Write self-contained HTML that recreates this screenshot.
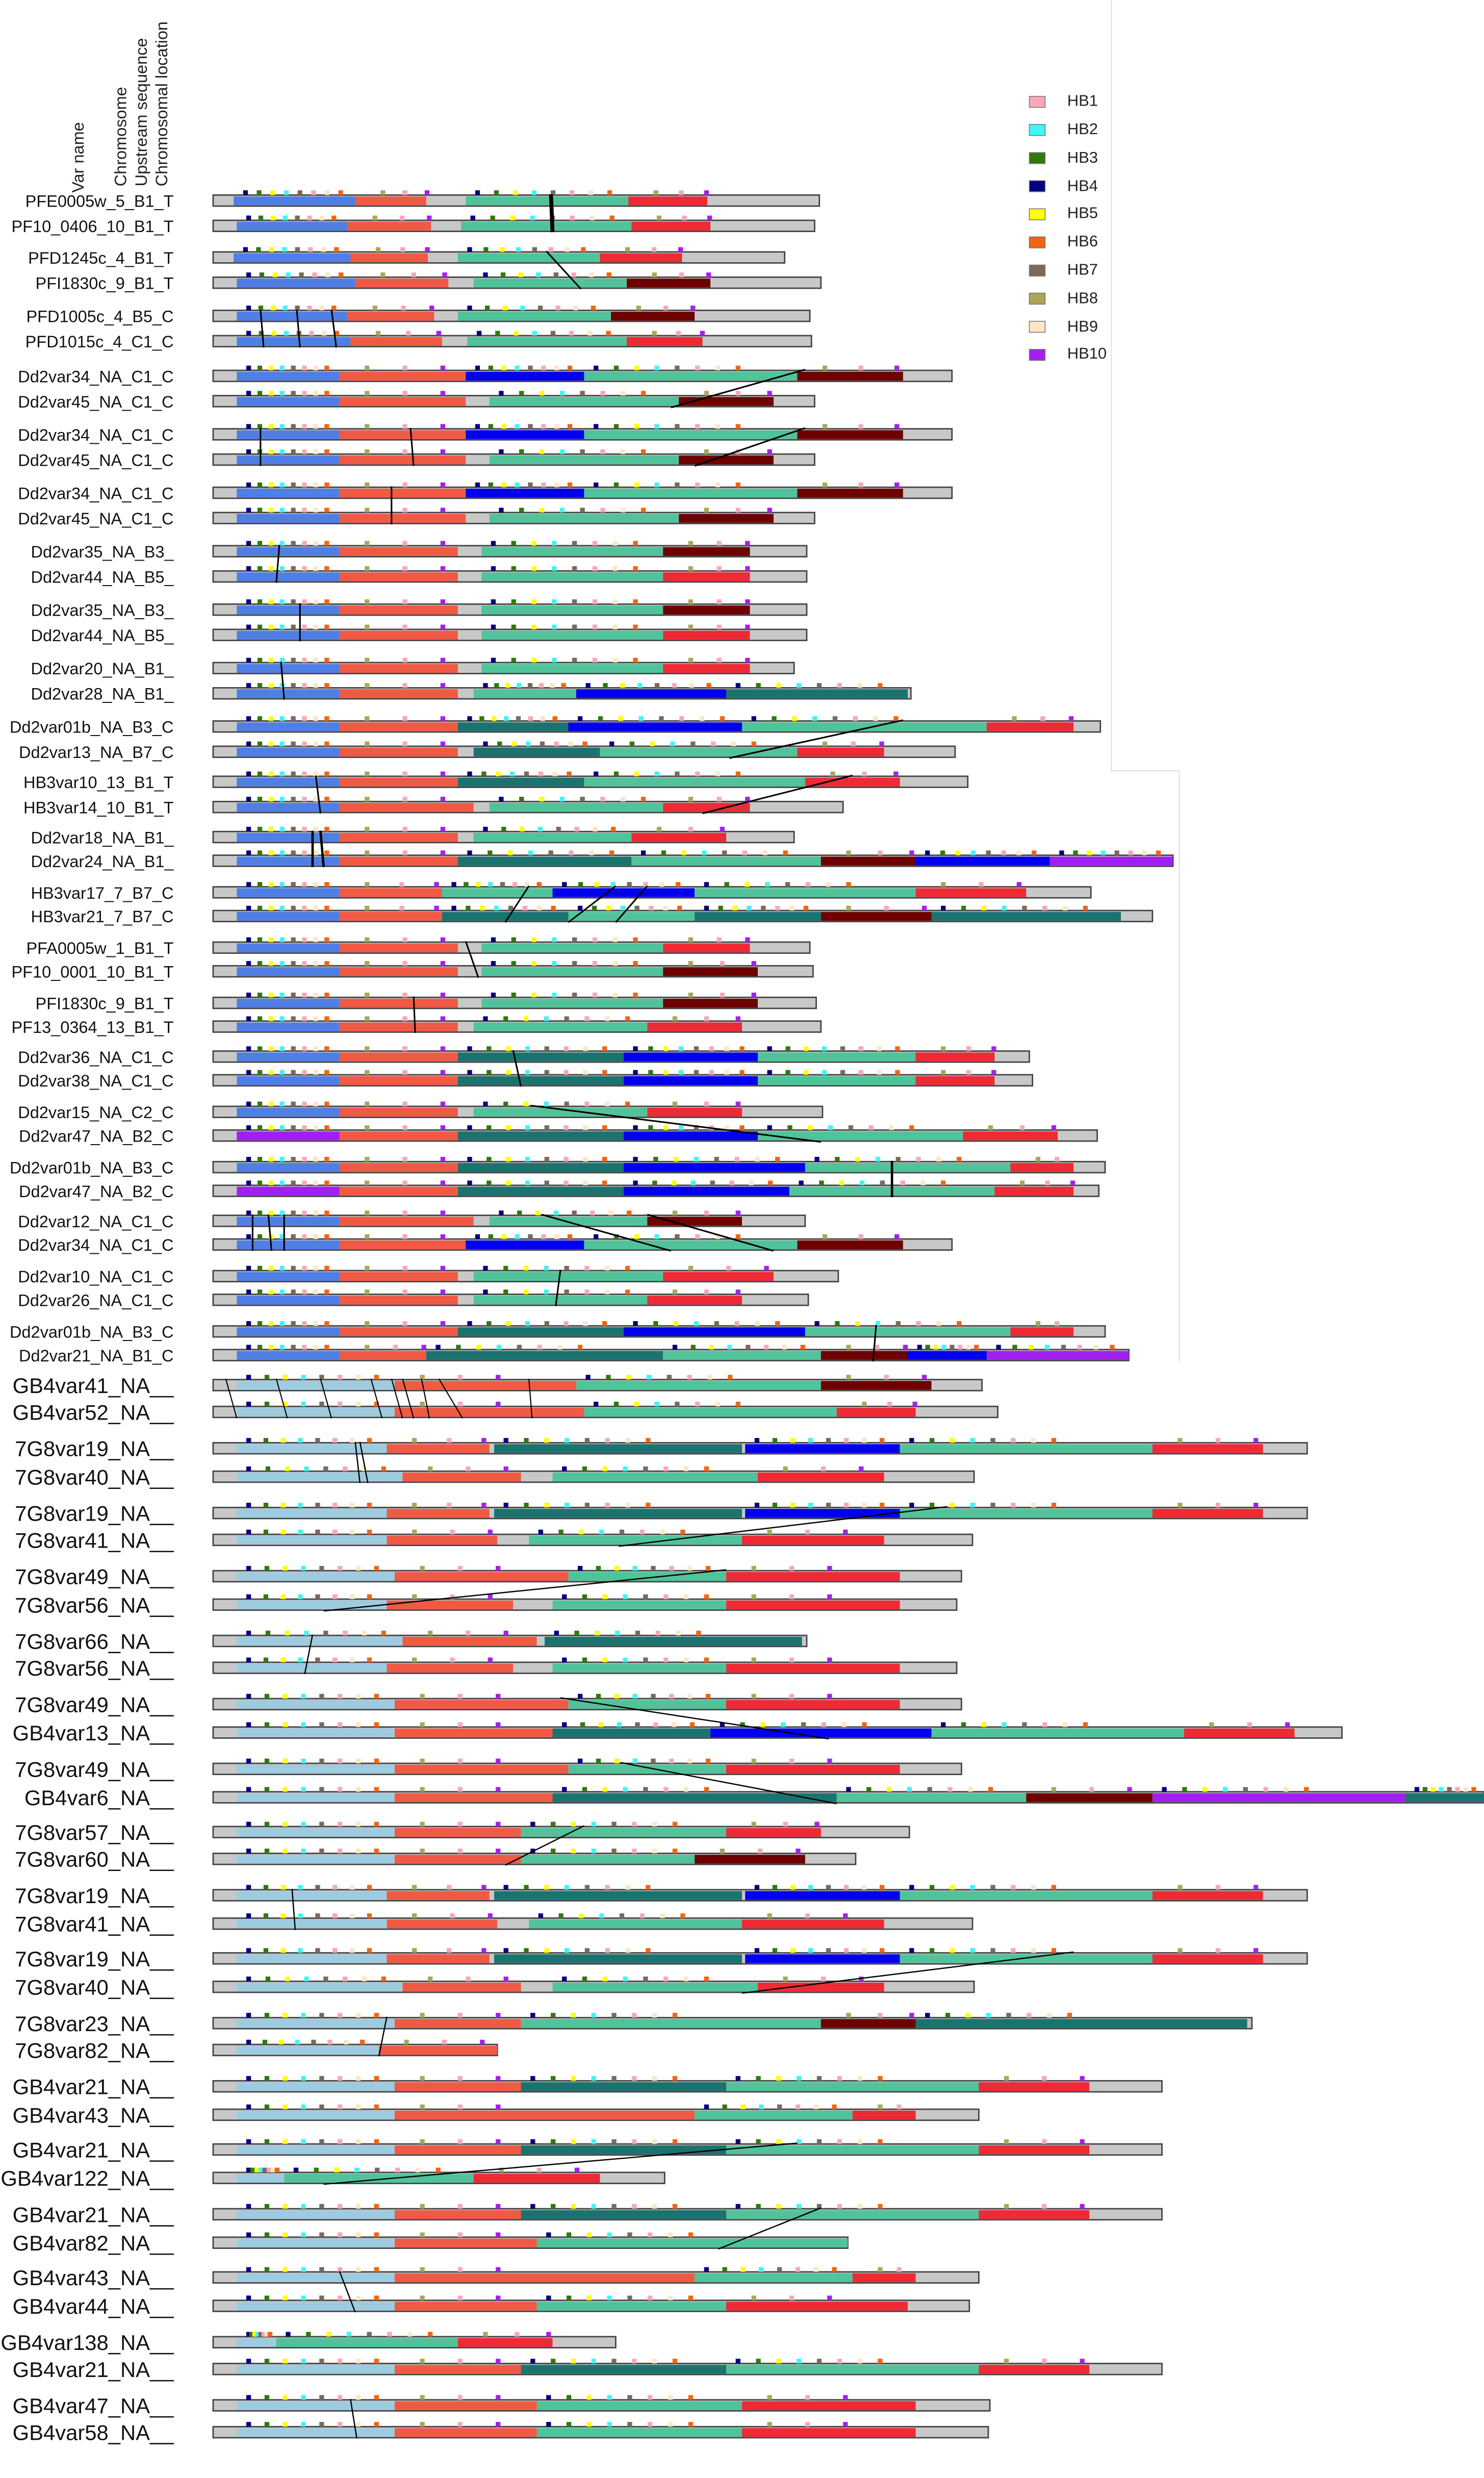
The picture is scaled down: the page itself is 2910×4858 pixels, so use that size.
<!DOCTYPE html>
<html><head><meta charset="utf-8"><style>
html,body{margin:0;padding:0;background:#fff;}
svg{display:block}
.lb{font-family:"Liberation Sans Narrow","Liberation Sans",sans-serif;font-size:10.5px;fill:#111;text-anchor:end}
.lb2{font-family:"Liberation Sans Narrow","Liberation Sans",sans-serif;font-size:13.5px;fill:#111;text-anchor:end}
.hd{font-family:"Liberation Sans",sans-serif;font-size:10.5px;fill:#222}
.lg{font-family:"Liberation Sans",sans-serif;font-size:10px;fill:#222}
</style></head><body>
<svg id="s" xmlns="http://www.w3.org/2000/svg" width="2910" height="4858" viewBox="0 0 940 1569" preserveAspectRatio="none">
<rect width="940" height="1569" fill="#fff"/>
<path d="M704 0 V488 H747 V862" fill="none" stroke="#ddd" stroke-width="0.6"/>
<text class="hd" transform="translate(53,122) rotate(-90)">Var name</text>
<text class="hd" transform="translate(80,118) rotate(-90)">Chromosome</text>
<text class="hd" transform="translate(93,118) rotate(-90)">Upstream sequence</text>
<text class="hd" transform="translate(106,118) rotate(-90)">Chromosomal location</text>
<g id="legend"></g>
<g class="lg">
<text x="676" y="67">HB1</text><text x="676" y="85">HB2</text><text x="676" y="103">HB3</text><text x="676" y="121">HB4</text><text x="676" y="138">HB5</text><text x="676" y="156">HB6</text><text x="676" y="174">HB7</text><text x="676" y="192">HB8</text><text x="676" y="210">HB9</text><text x="676" y="227">HB10</text>
</g>
<g id="bars"></g>
<g id="links"></g>
<g>
<text class="lb" x="110" y="131">PFE0005w_5_B1_T</text>
<text class="lb" x="110" y="147">PF10_0406_10_B1_T</text>
<text class="lb" x="110" y="167">PFD1245c_4_B1_T</text>
<text class="lb" x="110" y="183">PFI1830c_9_B1_T</text>
<text class="lb" x="110" y="204">PFD1005c_4_B5_C</text>
<text class="lb" x="110" y="220">PFD1015c_4_C1_C</text>
<text class="lb" x="110" y="242">Dd2var34_NA_C1_C</text>
<text class="lb" x="110" y="258">Dd2var45_NA_C1_C</text>
<text class="lb" x="110" y="279">Dd2var34_NA_C1_C</text>
<text class="lb" x="110" y="295">Dd2var45_NA_C1_C</text>
<text class="lb" x="110" y="316">Dd2var34_NA_C1_C</text>
<text class="lb" x="110" y="332">Dd2var45_NA_C1_C</text>
<text class="lb" x="110" y="353">Dd2var35_NA_B3_</text>
<text class="lb" x="110" y="369">Dd2var44_NA_B5_</text>
<text class="lb" x="110" y="390">Dd2var35_NA_B3_</text>
<text class="lb" x="110" y="406">Dd2var44_NA_B5_</text>
<text class="lb" x="110" y="427">Dd2var20_NA_B1_</text>
<text class="lb" x="110" y="443">Dd2var28_NA_B1_</text>
<text class="lb" x="110" y="464">Dd2var01b_NA_B3_C</text>
<text class="lb" x="110" y="480">Dd2var13_NA_B7_C</text>
<text class="lb" x="110" y="499">HB3var10_13_B1_T</text>
<text class="lb" x="110" y="515">HB3var14_10_B1_T</text>
<text class="lb" x="110" y="534">Dd2var18_NA_B1_</text>
<text class="lb" x="110" y="549">Dd2var24_NA_B1_</text>
<text class="lb" x="110" y="569">HB3var17_7_B7_C</text>
<text class="lb" x="110" y="584">HB3var21_7_B7_C</text>
<text class="lb" x="110" y="604">PFA0005w_1_B1_T</text>
<text class="lb" x="110" y="619">PF10_0001_10_B1_T</text>
<text class="lb" x="110" y="639">PFI1830c_9_B1_T</text>
<text class="lb" x="110" y="654">PF13_0364_13_B1_T</text>
<text class="lb" x="110" y="673">Dd2var36_NA_C1_C</text>
<text class="lb" x="110" y="688">Dd2var38_NA_C1_C</text>
<text class="lb" x="110" y="708">Dd2var15_NA_C2_C</text>
<text class="lb" x="110" y="723">Dd2var47_NA_B2_C</text>
<text class="lb" x="110" y="743">Dd2var01b_NA_B3_C</text>
<text class="lb" x="110" y="758">Dd2var47_NA_B2_C</text>
<text class="lb" x="110" y="777">Dd2var12_NA_C1_C</text>
<text class="lb" x="110" y="792">Dd2var34_NA_C1_C</text>
<text class="lb" x="110" y="812">Dd2var10_NA_C1_C</text>
<text class="lb" x="110" y="827">Dd2var26_NA_C1_C</text>
<text class="lb" x="110" y="847">Dd2var01b_NA_B3_C</text>
<text class="lb" x="110" y="862">Dd2var21_NA_B1_C</text>
<text class="lb2" x="110" y="882">GB4var41_NA__</text>
<text class="lb2" x="110" y="899">GB4var52_NA__</text>
<text class="lb2" x="110" y="922">7G8var19_NA__</text>
<text class="lb2" x="110" y="940">7G8var40_NA__</text>
<text class="lb2" x="110" y="963">7G8var19_NA__</text>
<text class="lb2" x="110" y="980">7G8var41_NA__</text>
<text class="lb2" x="110" y="1003">7G8var49_NA__</text>
<text class="lb2" x="110" y="1021">7G8var56_NA__</text>
<text class="lb2" x="110" y="1044">7G8var66_NA__</text>
<text class="lb2" x="110" y="1061">7G8var56_NA__</text>
<text class="lb2" x="110" y="1084">7G8var49_NA__</text>
<text class="lb2" x="110" y="1102">GB4var13_NA__</text>
<text class="lb2" x="110" y="1125">7G8var49_NA__</text>
<text class="lb2" x="110" y="1143">GB4var6_NA__</text>
<text class="lb2" x="110" y="1165">7G8var57_NA__</text>
<text class="lb2" x="110" y="1182">7G8var60_NA__</text>
<text class="lb2" x="110" y="1205">7G8var19_NA__</text>
<text class="lb2" x="110" y="1223">7G8var41_NA__</text>
<text class="lb2" x="110" y="1245">7G8var19_NA__</text>
<text class="lb2" x="110" y="1263">7G8var40_NA__</text>
<text class="lb2" x="110" y="1286">7G8var23_NA__</text>
<text class="lb2" x="110" y="1303">7G8var82_NA__</text>
<text class="lb2" x="110" y="1326">GB4var21_NA__</text>
<text class="lb2" x="110" y="1344">GB4var43_NA__</text>
<text class="lb2" x="110" y="1366">GB4var21_NA__</text>
<text class="lb2" x="110" y="1384">GB4var122_NA__</text>
<text class="lb2" x="110" y="1407">GB4var21_NA__</text>
<text class="lb2" x="110" y="1425">GB4var82_NA__</text>
<text class="lb2" x="110" y="1447">GB4var43_NA__</text>
<text class="lb2" x="110" y="1465">GB4var44_NA__</text>
<text class="lb2" x="110" y="1488">GB4var138_NA__</text>
<text class="lb2" x="110" y="1505">GB4var21_NA__</text>
<text class="lb2" x="110" y="1528">GB4var47_NA__</text>
<text class="lb2" x="110" y="1545">GB4var58_NA__</text>
</g>
</svg>
<script>
var NS="http://www.w3.org/2000/svg";
function el(p,t,a){var e=document.createElementNS(NS,t);for(var k in a)e.setAttribute(k,a[k]);p.appendChild(e);return e;}
var HB=["#f7a8b8","#3ff5f5","#2e7a0e","#000080","#ffff00","#f26510","#7a6a58","#aea55a","#fde6c4","#a81ef0"];
var lg=document.getElementById("legend");
HB.forEach(function(c,i){el(lg,"rect",{x:652,y:61+i*17.8,width:10,height:7,fill:c,stroke:"#777","stroke-width":0.5});});
var C={A:"#4f7fe4",R:"#f05a45",G:"#50c39a",r:"#ee2a35",D:"#6e0000",B:"#0000ee",T:"#1b7370",L:"#9ecbe0",P:"#a020f0"};
var rows=[
[127,519,"A148-225 R225-270 G295-398 r398-448"],
[143,516,"A150-220 R220-273 G292-400 r400-450"],
[163,497,"A148-222 R222-271 G290-380 r380-432"],
[179,520,"A150-225 R225-284 G300-397 D397-450"],
[200,513,"A150-220 R220-275 G290-387 D387-440"],
[216,514,"A150-222 R222-280 G296-397 r397-445"],
[238,603,"A150-215 R215-295 B295-370 G370-505 D505-572"],
[254,516,"A150-215 R215-295 G310-430 D430-490"],
[275,603,"A150-215 R215-295 B295-370 G370-505 D505-572"],
[291,516,"A150-215 R215-295 G310-430 D430-490"],
[312,603,"A150-215 R215-295 B295-370 G370-505 D505-572"],
[328,516,"A150-215 R215-295 G310-430 D430-490"],
[349,511,"A150-215 R215-290 G305-420 D420-475"],
[365,511,"A150-215 R215-290 G305-420 r420-475"],
[386,511,"A150-215 R215-290 G305-420 D420-475"],
[402,511,"A150-215 R215-290 G305-420 r420-475"],
[423,503,"A150-215 R215-290 G305-420 r420-475"],
[439,577,"A150-215 R215-290 G300-365 B365-460 T460-575"],
[460,697,"A150-215 R215-290 T290-360 B360-470 G470-625 r625-680"],
[476,605,"A150-215 R215-290 T300-380 G380-505 r505-560"],
[495,613,"A150-215 R215-290 T290-370 G370-510 r510-570"],
[511,534,"A150-215 R215-300 G310-420 r420-475"],
[530,503,"A150-215 R215-290 G300-400 r400-460"],
[545,743,"A150-215 R215-290 T290-400 G400-520 D520-580 B580-665 P665-743"],
[565,691,"A150-215 R215-280 G280-350 B350-440 G440-580 r580-650"],
[580,730,"A150-215 R215-280 T280-360 G360-440 T440-520 D520-590 T590-710"],
[600,513,"A150-215 R215-290 G305-420 r420-475"],
[615,515,"A150-215 R215-290 G305-420 D420-480"],
[635,517,"A150-215 R215-290 G305-420 D420-480"],
[650,520,"A150-215 R215-290 G300-410 r410-470"],
[669,652,"A150-215 R215-290 T290-395 B395-480 G480-580 r580-630"],
[684,654,"A150-215 R215-290 T290-395 B395-480 G480-580 r580-630"],
[704,521,"A150-215 R215-290 G300-410 r410-470"],
[719,695,"P150-215 R215-290 T290-395 B395-480 G480-610 r610-670"],
[739,700,"A150-215 R215-290 T290-395 B395-510 G510-640 r640-680"],
[754,696,"P150-215 R215-290 T290-395 B395-500 G500-630 r630-680"],
[773,510,"A150-215 R215-300 G310-410 D410-470"],
[788,603,"A150-215 R215-295 B295-370 G370-505 D505-572"],
[808,531,"A150-215 R215-290 G300-420 r420-490"],
[823,512,"A150-215 R215-290 G300-410 r410-470"],
[843,700,"A150-215 R215-290 T290-395 B395-510 G510-640 r640-680"],
[858,715,"A150-215 R215-270 T270-420 G420-520 D520-575 B575-625 P625-715"],
[877,622,"L150-250 R250-365 G365-520 D520-590"],
[894,632,"L150-250 R250-370 G370-530 r530-580"],
[917,828,"L150-245 R245-310 T313-470 B472-570 G570-730 r730-800"],
[935,617,"L150-255 R255-330 G350-480 r480-560"],
[958,828,"L150-245 R245-310 T313-470 B472-570 G570-730 r730-800"],
[975,616,"L150-245 R245-315 G335-470 r470-560"],
[998,609,"L150-250 R250-360 G360-460 r460-570"],
[1016,606,"L150-245 R245-325 G350-460 r460-570"],
[1039,511,"L150-255 R255-340 T345-508"],
[1056,606,"L150-245 R245-325 G350-460 r460-570"],
[1079,609,"L150-250 R250-360 G360-460 r460-570"],
[1097,850,"L150-250 R250-350 T350-450 B450-590 G590-750 r750-820"],
[1120,609,"L150-250 R250-360 G360-460 r460-570"],
[1138,940,"L150-250 R250-350 T350-530 G530-650 D650-730 P730-890 T890-940"],
[1160,576,"L150-250 R250-330 G330-460 r460-520"],
[1177,542,"L150-250 R250-330 G330-440 D440-510"],
[1200,828,"L150-245 R245-310 T313-470 B472-570 G570-730 r730-800"],
[1218,616,"L150-245 R245-315 G335-470 r470-560"],
[1240,828,"L150-245 R245-310 T313-470 B472-570 G570-730 r730-800"],
[1258,617,"L150-255 R255-330 G350-480 r480-560"],
[1281,793,"L150-250 R250-330 G330-520 D520-580 T580-790"],
[1298,315,"L150-240 R240-315"],
[1321,736,"L150-250 R250-330 T330-460 G460-620 r620-690"],
[1339,620,"L150-250 R250-440 G440-540 r540-580"],
[1361,736,"L150-250 R250-330 T330-460 G460-620 r620-690"],
[1379,421,"L150-180 G180-300 r300-380"],
[1402,736,"L150-250 R250-330 T330-460 G460-620 r620-690"],
[1420,537,"L150-250 R250-340 G340-537"],
[1442,620,"L150-250 R250-440 G440-540 r540-580"],
[1460,614,"L150-250 R250-340 G340-460 r460-575"],
[1483,390,"L150-175 G175-290 r290-350"],
[1500,736,"L150-250 R250-330 T330-460 G460-620 r620-690"],
[1523,627,"L150-250 R250-340 G340-470 r470-580"],
[1540,626,"L150-250 R250-340 G340-470 r470-580"]
];
var g=document.getElementById("bars");
var dblM=[3,2,4,1,6,0,8,5],cidrM=[7,0,9];
rows.forEach(function(rw){
 var y=rw[0],end=rw[1];
 el(g,"rect",{x:135,y:y-3.5,width:end-135,height:7,fill:"#c8c8c8",stroke:"#444","stroke-width":0.9});
 rw[2].split(" ").forEach(function(s){
  var t=s[0],p=s.slice(1).split("-"),a=+p[0],b=+p[1];
  el(g,"rect",{x:a,y:y-2.6,width:b-a,height:5.6,fill:C[t]});
  var isD="AGLTBP".indexOf(t)>=0, m=isD?dblM:cidrM, w=b-a;
  var span=isD?Math.min(w,110):Math.min(w,70);
  m.forEach(function(ci,k){
   var x=a+6+(span-10)*k/(m.length-1)*(isD?0.9:0.8)+(isD?0:10);
   if(x<b)el(g,"rect",{x:x,y:y-6.5,width:3,height:3,fill:HB[ci]});
  });
 });
});
var L=document.getElementById("links");
[[127,349,143,350,2.5],[163,346,179,368,1],[200,165,216,167,1],[200,188,216,190,1],[200,210,216,213,1],
[238,510,254,425,1],[275,165,291,165,1],[275,260,291,262,1],[275,510,291,440,1],[312,248,328,248,1],
[349,177,365,175,1],[386,190,402,190,1],[423,178,439,180,1],[460,572,476,462,1],[495,200,511,203,1],[495,540,511,445,1],
[530,198,545,198,1.5],[530,203,545,205,1.5],[565,335,580,320,1],[565,390,580,360,1],[565,410,580,390,1],
[600,295,615,303,1],[635,262,650,263,1],[669,325,684,330,1],[704,336,719,520,1],[739,565,754,565,1.5],
[773,160,788,160,1],[773,170,788,172,1],[773,180,788,180,1],[773,343,788,425,1],[773,410,788,490,1],[808,355,823,352,1],[843,555,858,553,1],
[877,143,894,150,0.7],[877,175,894,182,0.7],[877,203,894,210,0.7],[877,235,894,242,0.7],[877,248,894,255,0.7],[877,255,894,262,0.7],[877,267,894,272,0.7],[877,278,894,293,0.7],[877,335,894,337,0.7],
[917,225,935,228,0.8],[917,228,935,233,0.8],[958,600,975,392,0.8],[998,460,1016,205,0.8],[1039,198,1056,193,0.8],
[1079,355,1097,525,0.8],[1120,393,1138,530,0.8],[1160,370,1177,320,0.8],[1200,185,1218,187,0.8],[1240,680,1258,470,0.8],
[1281,245,1298,240,0.8],[1361,505,1379,205,0.8],[1402,520,1420,455,0.8],[1442,215,1460,225,0.8],[1523,222,1540,226,0.8]
].forEach(function(l){el(L,"line",{x1:l[1],y1:l[0]-4,x2:l[3],y2:l[2]+4,stroke:"#000","stroke-width":l[4]});});
</script>
</body></html>
